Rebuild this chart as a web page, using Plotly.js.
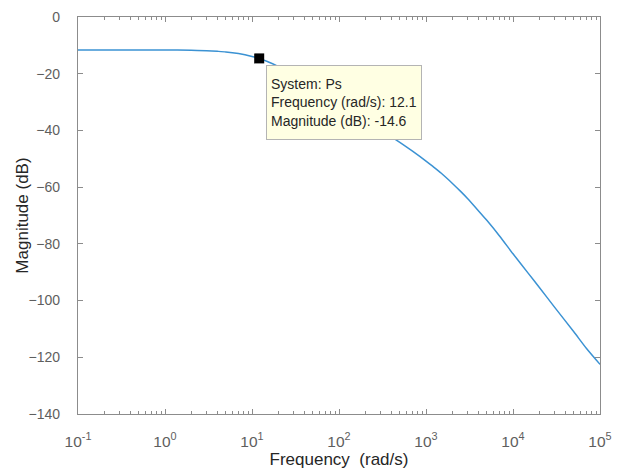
<!DOCTYPE html>
<html>
<head>
<meta charset="utf-8">
<script src="https://cdn.plot.ly/plotly-3.0.1.min.js"></script>
<style>html,body{margin:0;padding:0;background:#fff;}#chart{width:621px;height:470px;}</style>
</head>
<body>
<div id="chart"></div>
<script>
// Frequency (rad/s) and magnitude (dB)
const frequency = [0.1, 0.3, 1, 2, 3, 4, 5, 7, 10, 12.1, 15, 20, 25, 30, 40, 50, 70, 100, 150, 200, 300, 400, 500, 700, 1000, 1200, 1500, 2000, 2500, 3000, 4000, 5000, 7000, 10000, 15000, 20000, 30000, 50000, 70000, 100000];
const magnitude = [-11.6, -11.6, -11.6, -11.7, -11.9, -12.1, -12.3, -12.9, -13.9, -14.6, -15.7, -17.4, -18.9, -20.2, -22.4, -24.2, -27.0, -30.1, -33.6, -36.1, -39.7, -42.2, -44.2, -47.3, -50.8, -52.7, -55.1, -58.6, -61.5, -64.0, -68.3, -71.7, -77.2, -83.5, -90.4, -95.3, -102.3, -111.0, -116.9, -122.5];
const tipFrequency = [12.1];
const tipMagnitude = [-14.6];
const xTickVals = [0.1, 1, 10, 100, 1000, 10000, 100000];
const xTickText = ['10<sup>-1</sup>', '10<sup>0</sup>', '10<sup>1</sup>', '10<sup>2</sup>', '10<sup>3</sup>', '10<sup>4</sup>', '10<sup>5</sup>'];
const yTickVals = [0, -20, -40, -60, -80, -100, -120, -140];
const xTitle = 'Frequency  (rad/s)';
const yTitle = 'Magnitude (dB)';
const tipText = 'System: Ps<br>Frequency (rad/s): ' + tipFrequency[0].toFixed(1) + '<br>Magnitude (dB): ' + tipMagnitude[0].toFixed(1);

const font = 'Arial, "Liberation Sans", sans-serif';
const axisCol = '#8c8c8c';
const labelCol = '#5e5e5e';
const titleCol = '#262626';

const traces = [
  {x: frequency, y: magnitude, type: 'scatter', mode: 'lines',
   line: {color: '#3b92d3', width: 1.5, shape: 'spline', smoothing: 0.6}, hoverinfo: 'skip'},
  {x: tipFrequency, y: tipMagnitude, type: 'scatter', mode: 'markers',
   marker: {symbol: 'square', size: 10, color: '#000'}, hoverinfo: 'skip'}
];

const layout = {
  width: 621, height: 470,
  margin: {l: 78, r: 21, t: 17, b: 56},
  paper_bgcolor: '#fff', plot_bgcolor: '#fff',
  showlegend: false,
  font: {family: font, size: 14, color: labelCol},
  xaxis: {
    type: 'log', range: [-1, 5],
    tickvals: xTickVals, ticktext: xTickText,
    ticks: 'inside', ticklen: 5, tickcolor: axisCol, tickwidth: 1,
    ticklabelstandoff: 13,
    minor: {ticks: 'inside', ticklen: 3, tickcolor: axisCol, dtick: 'D1', showgrid: false},
    showline: true, linecolor: axisCol, linewidth: 1.2, mirror: 'ticks',
    showgrid: false, zeroline: false,
    tickfont: {size: 15.5, color: labelCol},
    title: {text: xTitle, font: {size: 17, color: titleCol}, standoff: 3}
  },
  yaxis: {
    range: [-140, 0], tickvals: yTickVals,
    ticks: 'inside', ticklen: 5, tickcolor: axisCol, tickwidth: 1,
    ticklabelstandoff: 14,
    showline: true, linecolor: axisCol, linewidth: 1.2, mirror: 'ticks',
    showgrid: false, zeroline: false,
    tickfont: {size: 14, color: labelCol}
  },
  annotations: [{
    xref: 'paper', yref: 'paper', x: -0.107, y: 0.5,
    xanchor: 'center', yanchor: 'middle', showarrow: false, textangle: -90,
    text: yTitle, font: {family: font, size: 17, color: titleCol}
  }, {
    xref: 'paper', yref: 'paper', x: 0.36, y: 0.879,
    xanchor: 'left', yanchor: 'top', showarrow: false, align: 'left',
    text: tipText, font: {family: font, size: 14, color: titleCol},
    bgcolor: '#ffffe3', bordercolor: '#b4b4b4', borderwidth: 1, borderpad: 4,
    width: 146, height: 65
  }]
};

Plotly.newPlot('chart', traces, layout, {displayModeBar: false, staticPlot: true});
</script>
</body>
</html>
